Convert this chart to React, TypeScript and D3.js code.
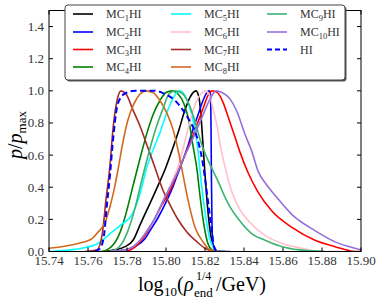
import React from "react";
import * as d3 from "d3";

// [log10(rho_end^1/4 / GeV), p/p_max]
const mc1: [number, number][] = [
  [15.7687, 0], [15.7738, 0.01], [15.779, 0.03], [15.7831, 0.07], [15.7872, 0.18],
  [15.7918, 0.3], [15.7959, 0.41], [15.7995, 0.51], [15.8031, 0.63], [15.8067, 0.76],
  [15.8097, 0.88], [15.8123, 0.96], [15.8154, 1.0], [15.8169, 0.96], [15.8179, 0.85],
  [15.819, 0.66], [15.82, 0.48], [15.821, 0.32], [15.8221, 0.18], [15.8231, 0.09],
  [15.8246, 0.03], [15.8267, 0.0], [15.8303, 0],
];
const mc2: [number, number][] = [
  [15.7738, 0], [15.779, 0.01], [15.7841, 0.03], [15.7892, 0.08], [15.7918, 0.13],
  [15.7959, 0.21], [15.8005, 0.32], [15.8031, 0.39], [15.8056, 0.47], [15.8087, 0.57],
  [15.8113, 0.66], [15.8138, 0.76], [15.8164, 0.85], [15.819, 0.94], [15.821, 0.99],
  [15.8221, 1.0], [15.8228, 0.98], [15.8231, 0.76], [15.8233, 0.45], [15.8236, 0.17],
  [15.8241, 0.04], [15.8251, 0.01], [15.8287, 0.0], [15.8328, 0],
];
const mc3: [number, number][] = [
  [15.7713, 0], [15.779, 0.0], [15.7831, 0.02], [15.7867, 0.06], [15.7903, 0.12],
  [15.7944, 0.21], [15.7979, 0.29], [15.8021, 0.38], [15.8062, 0.5], [15.8097, 0.6],
  [15.8128, 0.69], [15.8159, 0.79], [15.819, 0.89], [15.8215, 0.97], [15.8236, 1.0],
  [15.8262, 0.99], [15.8292, 0.93], [15.8318, 0.84], [15.8349, 0.73], [15.8379, 0.62],
  [15.8421, 0.49], [15.8472, 0.37], [15.8544, 0.25], [15.8646, 0.15], [15.8764, 0.07],
  [15.8867, 0.03], [15.8969, 0.0], [15.9, 0],
];
const mc4: [number, number][] = [
  [15.7662, 0], [15.7697, 0.01], [15.7728, 0.04], [15.7754, 0.09], [15.7779, 0.17],
  [15.78, 0.26], [15.7831, 0.41], [15.7867, 0.58], [15.7903, 0.74], [15.7933, 0.85],
  [15.7969, 0.94], [15.8, 0.99], [15.8031, 1.0], [15.8062, 0.98], [15.8092, 0.92],
  [15.8118, 0.81], [15.8138, 0.66], [15.8159, 0.51], [15.8174, 0.35], [15.819, 0.2],
  [15.821, 0.07], [15.8236, 0.01], [15.8267, 0],
];
const mc5: [number, number][] = [
  [15.74, 0.0], [15.7508, 0.01], [15.7569, 0.02], [15.7651, 0.05], [15.7723, 0.12],
  [15.7774, 0.17], [15.7826, 0.23], [15.7867, 0.36], [15.7903, 0.53], [15.7933, 0.63],
  [15.7969, 0.74], [15.8, 0.85], [15.8031, 0.94], [15.8056, 0.99], [15.8072, 1.0],
  [15.8092, 0.98], [15.8118, 0.91], [15.8144, 0.79], [15.8164, 0.63], [15.8179, 0.45],
  [15.8195, 0.29], [15.821, 0.17], [15.8226, 0.07], [15.8241, 0.03], [15.8267, 0],
];
const mc6: [number, number][] = [
  [15.7713, 0], [15.779, 0.01], [15.7831, 0.03], [15.7867, 0.07], [15.7903, 0.13],
  [15.7944, 0.21], [15.7979, 0.3], [15.8021, 0.41], [15.8062, 0.53], [15.8092, 0.66],
  [15.8123, 0.81], [15.8154, 0.93], [15.8179, 0.98], [15.82, 1.0], [15.8221, 0.98],
  [15.8241, 0.89], [15.8262, 0.78], [15.8282, 0.64], [15.8308, 0.5], [15.8338, 0.37],
  [15.8379, 0.26], [15.8431, 0.18], [15.8508, 0.1], [15.8595, 0.05], [15.8697, 0.02],
  [15.88, 0.0], [15.8892, 0],
];
const mc7: [number, number][] = [
  [15.7585, 0], [15.7646, 0.01], [15.7672, 0.1], [15.7692, 0.32], [15.7713, 0.54],
  [15.7728, 0.76], [15.7749, 0.94], [15.7769, 1.0], [15.7795, 0.98], [15.7831, 0.88],
  [15.7867, 0.78], [15.7903, 0.66], [15.7944, 0.52], [15.7985, 0.38], [15.8021, 0.29],
  [15.8056, 0.21], [15.8108, 0.12], [15.8159, 0.06], [15.82, 0.02], [15.8251, 0],
];
const mc8: [number, number][] = [
  [15.74, 0.02], [15.7549, 0.05], [15.7621, 0.08], [15.7651, 0.12], [15.7687, 0.18],
  [15.7713, 0.28], [15.7733, 0.38], [15.7754, 0.51], [15.7779, 0.68], [15.7805, 0.82],
  [15.7836, 0.92], [15.7867, 0.98], [15.7897, 1.0], [15.7933, 0.99], [15.7969, 0.94],
  [15.8005, 0.86], [15.8036, 0.76], [15.8062, 0.63], [15.8082, 0.51], [15.8113, 0.32],
  [15.8149, 0.15], [15.819, 0.06], [15.8226, 0.01], [15.8277, 0],
];
const mc9: [number, number][] = [
  [15.7703, 0], [15.7738, 0.01], [15.7774, 0.05], [15.7805, 0.13], [15.7841, 0.27],
  [15.7877, 0.45], [15.7913, 0.62], [15.7949, 0.77], [15.7985, 0.89], [15.8015, 0.98],
  [15.8046, 1.0], [15.8077, 0.99], [15.8113, 0.93], [15.8149, 0.81], [15.8179, 0.68],
  [15.8215, 0.57], [15.8262, 0.45], [15.8318, 0.3], [15.8379, 0.19], [15.8441, 0.11],
  [15.8508, 0.07], [15.8595, 0.03], [15.8687, 0.01], [15.8815, 0],
];
const mc10: [number, number][] = [
  [15.7713, 0], [15.779, 0.01], [15.7831, 0.03], [15.7867, 0.07], [15.7903, 0.13],
  [15.7944, 0.21], [15.7979, 0.3], [15.8021, 0.4], [15.8062, 0.5], [15.8097, 0.6],
  [15.8133, 0.69], [15.8169, 0.79], [15.82, 0.88], [15.8226, 0.95], [15.8256, 1.0],
  [15.8287, 0.99], [15.8328, 0.95], [15.8364, 0.87], [15.8405, 0.73], [15.8441, 0.62],
  [15.8472, 0.5], [15.8513, 0.42], [15.8559, 0.35], [15.8646, 0.23], [15.8764, 0.13],
  [15.8867, 0.06], [15.8969, 0.02], [15.9, 0.01],
];
const hi: [number, number][] = [
  [15.7636, 0], [15.7662, 0.02], [15.7682, 0.1], [15.7697, 0.29], [15.7713, 0.48],
  [15.7728, 0.69], [15.7749, 0.9], [15.7769, 0.96], [15.78, 0.99], [15.7841, 1.0],
  [15.7882, 1.0], [15.7944, 1.0], [15.7995, 0.98], [15.8046, 0.94], [15.8087, 0.88],
  [15.8123, 0.81], [15.8154, 0.73], [15.8174, 0.64], [15.819, 0.54], [15.8205, 0.41],
  [15.8221, 0.26], [15.8236, 0.12], [15.8246, 0.03], [15.8262, 0],
];

const xTicks = [15.74, 15.76, 15.78, 15.8, 15.82, 15.84, 15.86, 15.88, 15.9];
const yTicks = [0, 0.2, 0.4, 0.6, 0.8, 1.0, 1.2, 1.4];

const series = [
  { sub: "1", color: "#000000", data: mc1 },
  { sub: "2", color: "#0000ff", data: mc2 },
  { sub: "3", color: "#ff0000", data: mc3 },
  { sub: "4", color: "#008000", data: mc4 },
  { sub: "5", color: "#00ffff", data: mc5 },
  { sub: "6", color: "#ffc0cb", data: mc6 },
  { sub: "7", color: "#a52a2a", data: mc7 },
  { sub: "8", color: "#d2691e", data: mc8 },
  { sub: "9", color: "#3cb371", data: mc9 },
  { sub: "10", color: "#9370db", data: mc10 },
  { sub: "", color: "#0000ff", data: hi, dashed: true },
];

const W = 381;
const H = 305;
const margin = { top: 10.5, right: 20, bottom: 53.5, left: 49 };
const serif = "'Liberation Serif', 'DejaVu Serif', serif";

const App = () => {
  const x = d3.scaleLinear().domain([15.74, 15.9]).range([margin.left, W - margin.right]);
  const y = d3.scaleLinear().domain([0, 1.5]).range([H - margin.bottom, margin.top]);
  const line = d3
    .line<[number, number]>()
    .x((d) => x(d[0]))
    .y((d) => y(d[1]))
    .curve(d3.curveMonotoneX);

  const x0 = x.range()[0];
  const x1 = x.range()[1];
  const yb = y.range()[0];
  const yt = y.range()[1];

  // legend layout
  const lgX = 65, lgY = 5, lgW = 280, lgH = 75;
  const colX = [73, 171, 267];
  const rowY = [14, 32, 49.5, 67];

  return (
    <svg width={W} height={H} style={{ position: "absolute", left: 0, top: 0 }} fontFamily={serif}>
      <rect width={W} height={H} fill="#fff" />
      <defs>
        <clipPath id="plot">
          <rect x={x0} y={yt} width={x1 - x0} height={yb - yt} />
        </clipPath>
      </defs>

      <g clipPath="url(#plot)">
        {series.map((s, i) => (
          <path
            key={i}
            d={line(s.data) || ""}
            fill="none"
            stroke={s.color}
            strokeWidth={s.dashed ? 2 : 1.6}
            strokeDasharray={s.dashed ? "6,3.5" : undefined}
          />
        ))}
      </g>

      <rect x={x0} y={yt} width={x1 - x0} height={yb - yt} fill="none" stroke="#000" strokeWidth={1} />

      {xTicks.map((t) => (
        <g key={"x" + t}>
          <line x1={x(t)} x2={x(t)} y1={yb} y2={yb - 4} stroke="#000" />
          <line x1={x(t)} x2={x(t)} y1={yt} y2={yt + 4} stroke="#000" />
          <text x={x(t)} y={265} textAnchor="middle" fontSize={13} fill="#333">
            {t.toFixed(2)}
          </text>
        </g>
      ))}
      {yTicks.map((t) => (
        <g key={"y" + t}>
          <line x1={x0} x2={x0 + 4} y1={y(t)} y2={y(t)} stroke="#000" />
          <line x1={x1} x2={x1 - 4} y1={y(t)} y2={y(t)} stroke="#000" />
          <text x={44} y={y(t) + 4.5} textAnchor="end" fontSize={13} fill="#333">
            {t.toFixed(1)}
          </text>
        </g>
      ))}

      {/* y label */}
      <text transform={`translate(22,135) rotate(-90)`} textAnchor="middle" fontSize={20}>
        <tspan fontStyle="italic">p</tspan>
        <tspan>/</tspan>
        <tspan fontStyle="italic">p</tspan>
        <tspan fontSize={13} dy={4}>max</tspan>
      </text>

      {/* x label */}
      <g fontSize={20}>
        <text x={138} y={291}>log</text>
        <text x={164} y={296} fontSize={13}>10</text>
        <text x={177} y={291}>(</text>
        <text x={184} y={291} fontStyle="italic">ρ</text>
        <text x={194} y={297} fontSize={13}>end</text>
        <text x={196} y={280} fontSize={12}>1/4</text>
        <text x={216} y={291}>/GeV)</text>
      </g>

      {/* legend */}
      <rect x={lgX + 1.5} y={lgY + 1.5} width={lgW} height={lgH} rx={3} fill="#555" />
      <rect x={lgX} y={lgY} width={lgW} height={lgH} rx={3} fill="#fff" stroke="#444" strokeWidth={1} />
      {series.map((s, i) => {
        const c = Math.floor(i / 4);
        const r = i % 4;
        const lx = colX[c];
        const ly = rowY[r];
        return (
          <g key={"lg" + i}>
            <line
              x1={lx}
              x2={lx + 20}
              y1={ly}
              y2={ly}
              stroke={s.color}
              strokeWidth={s.dashed ? 2 : 1.6}
              strokeDasharray={s.dashed ? "5,3" : undefined}
            />
            <text x={lx + 33} y={ly + 4} fontSize={12} fill="#333">
              {s.sub ? (
                <>
                  MC<tspan fontSize={8.5} dy={2.5}>{s.sub}</tspan>
                  <tspan dy={-2.5}>HI</tspan>
                </>
              ) : (
                "HI"
              )}
            </text>
          </g>
        );
      })}
    </svg>
  );
};

export default App;
